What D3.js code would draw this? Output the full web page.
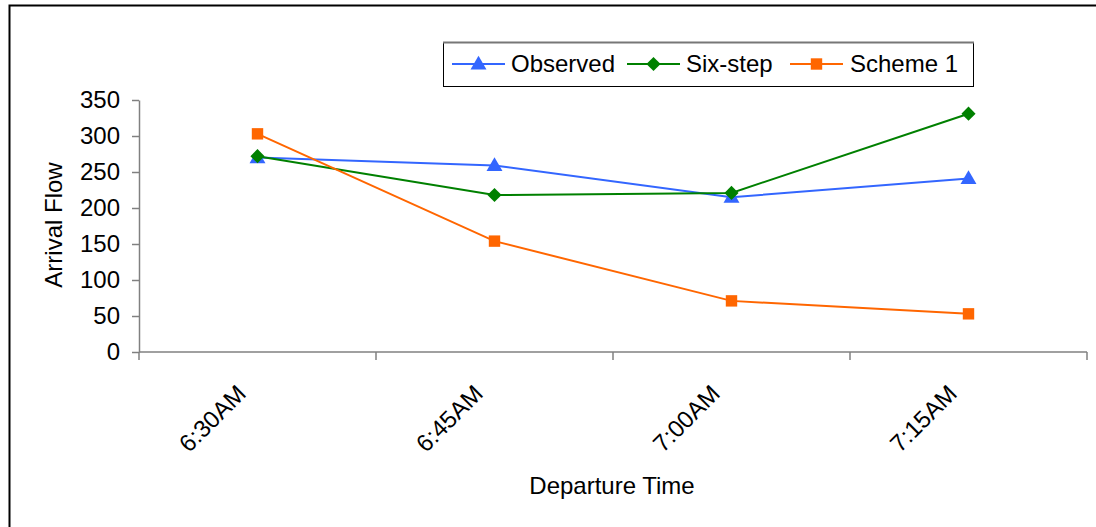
<!DOCTYPE html>
<html>
<head>
<meta charset="utf-8">
<script src="https://cdn.jsdelivr.net/npm/d3@7"></script>
<style>
  html, body { margin: 0; padding: 0; background: #fff; }
  svg { display: block; font-family: "Liberation Sans", Arial, sans-serif; }
</style>
</head>
<body>
<svg id="chart" width="1096" height="527"></svg>
<script>
// Departure time slots
const categories = ["6:30AM", "6:45AM", "7:00AM", "7:15AM"];
// Arrival flow per slot for each method
const observed = [270, 259, 215, 241];
const sixStep = [272, 218, 221, 331];
const scheme1 = [303, 154, 71, 53];
// Y axis ticks
const yTicks = [0, 50, 100, 150, 200, 250, 300, 350];

const series = [
  { name: "Observed", values: observed, color: "#3366FF", shape: "triangle" },
  { name: "Six-step", values: sixStep, color: "#008000", shape: "diamond" },
  { name: "Scheme 1", values: scheme1, color: "#FF6600", shape: "square" }
];

const svg = d3.select("#chart");
const plot = { left: 139, right: 1087, top: 100, bottom: 352 };

// Outer frame (top and left edges)
svg.append("path")
  .attr("d", `M9.5,527 V5.5 H1096`)
  .attr("fill", "none").attr("stroke", "#000").attr("stroke-width", 2);

const x = d3.scaleBand().domain(categories).range([plot.left, plot.right]);
const y = d3.scaleLinear().domain([0, 350]).range([plot.bottom, plot.top]);

// Y axis
const yAxis = svg.append("g")
  .attr("transform", `translate(${plot.left},0)`)
  .call(d3.axisLeft(y).tickValues(yTicks).tickSize(7).tickPadding(12).tickSizeOuter(0));
yAxis.select(".domain").attr("stroke", "#808080").attr("stroke-width", 1.5);
yAxis.selectAll(".tick line").attr("stroke", "#808080").attr("stroke-width", 1.5);
yAxis.selectAll(".tick text")
  .attr("fill", "#000").style("font-size", "24px")
  .style("font-family", "'Liberation Sans', Arial, sans-serif");

// X axis with tick marks at category boundaries
const xAxisG = svg.append("g").attr("transform", `translate(0,${plot.bottom})`);
xAxisG.append("line")
  .attr("x1", plot.left).attr("x2", plot.right)
  .attr("stroke", "#808080").attr("stroke-width", 1.5);
const bounds = categories.map(c => x(c)).concat([x(categories[categories.length - 1]) + x.bandwidth()]);
xAxisG.selectAll("line.tk").data(bounds).join("line")
  .attr("class", "tk")
  .attr("x1", d => d).attr("x2", d => d)
  .attr("y1", 0).attr("y2", 8)
  .attr("stroke", "#808080").attr("stroke-width", 1.5);
xAxisG.selectAll("text").data(categories).join("text")
  .attr("transform", d => `translate(${x(d) + x.bandwidth() / 2 - 10},43) rotate(-45)`)
  .attr("text-anchor", "end")
  .style("font-size", "24px")
  .text(d => d);

// Axis titles
svg.append("text")
  .attr("x", 612).attr("y", 494)
  .attr("text-anchor", "middle").style("font-size", "24px")
  .text("Departure Time");
svg.append("text")
  .attr("transform", "translate(62,225) rotate(-90)")
  .attr("text-anchor", "middle").style("font-size", "24px")
  .text("Arrival Flow");

// Marker shapes (diamond is a square turned 45 degrees)
const symbols = {
  triangle: d3.symbol().type(d3.symbolTriangle).size(110),
  diamond: d3.symbol().type(d3.symbolSquare).size(100),
  square: d3.symbol().type(d3.symbolSquare).size(130)
};
const markerTransform = (shape, cx, cy) =>
  shape === "triangle" ? `translate(${cx},${cy + 1})`
  : shape === "diamond" ? `translate(${cx},${cy}) rotate(45)`
  : `translate(${cx},${cy})`;

const line = d3.line()
  .x((d, i) => x(categories[i]) + x.bandwidth() / 2)
  .y(d => y(d));

series.forEach(s => {
  const g = svg.append("g");
  g.append("path")
    .attr("d", line(s.values))
    .attr("fill", "none").attr("stroke", s.color).attr("stroke-width", 2);
  g.selectAll("path.m").data(s.values).join("path")
    .attr("class", "m")
    .attr("transform", (d, i) => markerTransform(s.shape, x(categories[i]) + x.bandwidth() / 2, y(d)))
    .attr("d", symbols[s.shape]())
    .attr("fill", s.color);
});

// Legend
const legend = svg.append("g");
legend.append("rect")
  .attr("x", 443.5).attr("y", 42.5).attr("width", 530).attr("height", 44)
  .attr("fill", "#fff").attr("stroke", "#000").attr("stroke-width", 1);
legend.append("line")
  .attr("x1", 443).attr("x2", 974).attr("y1", 42.5).attr("y2", 42.5)
  .attr("stroke", "#777").attr("stroke-width", 2);
const legendPos = [
  { x1: 452, x2: 505, tx: 511 },
  { x1: 627, x2: 680, tx: 686 },
  { x1: 790, x2: 843, tx: 850 }
];
series.forEach((s, i) => {
  const p = legendPos[i];
  const ly = 64;
  legend.append("line")
    .attr("x1", p.x1).attr("x2", p.x2).attr("y1", ly).attr("y2", ly)
    .attr("stroke", s.color).attr("stroke-width", 2);
  legend.append("path")
    .attr("transform", markerTransform(s.shape, (p.x1 + p.x2) / 2, ly))
    .attr("d", symbols[s.shape]())
    .attr("fill", s.color);
  legend.append("text")
    .attr("x", p.tx).attr("y", ly).attr("dy", "0.35em")
    .style("font-size", "24px")
    .text(s.name);
});
</script>
</body>
</html>
